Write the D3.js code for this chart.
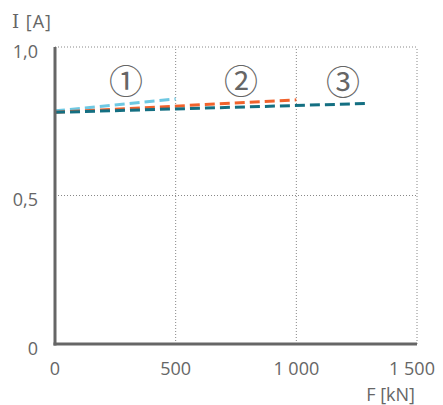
<!DOCTYPE html>
<html><head><meta charset="utf-8">
<script src="https://cdn.jsdelivr.net/npm/d3@7"></script>
<style>body{margin:0;background:#fff}</style>
</head><body><svg id="c" width="443" height="405" font-family="Open Sans, sans-serif"></svg>
<script>
const xTicks=[0,500,1000,1500];
const xTickLabels=["0","500","1 000","1 500"];
const yTicks=[0,0.5,1.0];
const yTickLabels=["0","0,5","1,0"];
const seriesColors=["#6ec8e2","#f0622c","#146f82"];
const s1=[[0,0.785],[500,0.825]];
const s2=[[0,0.78],[1000,0.822]];
const s3=[[0,0.78],[1300,0.81]];
const zoneLabels=["①","②","③"];
const zoneX=[294,771,1193];
const zoneY=[0.889,0.892,0.886];

const svg=d3.select("#c");
const x=d3.scaleLinear().domain([0,1500]).range([55,417]);
const y=d3.scaleLinear().domain([0,1]).range([344,47]);
const grey="#666";

svg.selectAll(".gx").data(xTicks.slice(1)).enter().append("line")
 .attr("x1",d=>x(d)).attr("x2",d=>x(d)).attr("y1",y(0)).attr("y2",y(1))
 .attr("stroke","#888").attr("stroke-width",1).attr("stroke-dasharray","1,2");
svg.selectAll(".gy").data(yTicks.slice(1)).enter().append("line")
 .attr("x1",x(0)).attr("x2",x(1500)).attr("y1",d=>y(d)).attr("y2",d=>y(d))
 .attr("stroke","#888").attr("stroke-width",1).attr("stroke-dasharray","1,2");

const line=d3.line().x(d=>x(d[0])).y(d=>y(d[1]));
[s1,s2,s3].forEach((s,i)=>{
 svg.append("path").attr("d",line(s)).attr("fill","none")
  .attr("stroke",seriesColors[i]).attr("stroke-width",3).attr("stroke-dasharray","10,5");
});

svg.append("line").attr("x1",x(0)).attr("x2",x(0)).attr("y1",y(0)+1.5).attr("y2",y(1)).attr("stroke","#666").attr("stroke-width",3);
svg.append("line").attr("x1",x(0)-1.5).attr("x2",x(1500)).attr("y1",y(0)).attr("y2",y(0)).attr("stroke","#666").attr("stroke-width",3);

svg.selectAll(".xl").data(xTicks).enter().append("text")
 .attr("x",(d,i)=>x(d)+(i==3?-5:0)).attr("y",375).attr("text-anchor","middle")
 .attr("font-size",18).attr("fill",grey).text((d,i)=>xTickLabels[i]);
svg.selectAll(".yl").data(yTicks).enter().append("text")
 .attr("x",38).attr("y",d=>y(d)+10.5).attr("text-anchor","end")
 .attr("font-size",18).attr("fill",grey).text((d,i)=>yTickLabels[i]);

const ia=svg.append("text").attr("x",12).attr("y",28).attr("font-size",18).attr("fill",grey).attr("letter-spacing",1);
ia.append("tspan").style("font-family","DejaVu Serif").text("I");
ia.append("tspan").text(" [A]");
svg.append("text").attr("x",415).attr("y",401).attr("text-anchor","end").attr("font-size",18).attr("fill",grey).text("F [kN]");

svg.selectAll(".z").data(zoneLabels).enter().append("text")
 .attr("x",(d,i)=>x(zoneX[i])).attr("y",(d,i)=>y(zoneY[i])).attr("text-anchor","middle")
 .attr("dominant-baseline","central").style("font-family","Noto Sans CJK JP")
 .attr("font-size",34).attr("fill",grey).text(d=>d);
</script></body></html>
